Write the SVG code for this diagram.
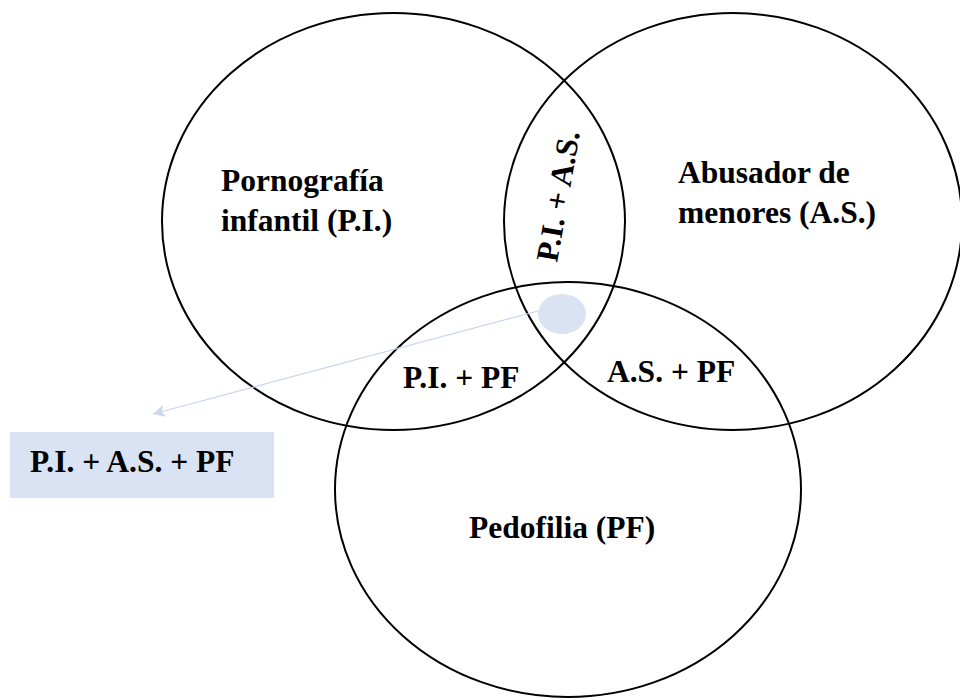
<svg xmlns="http://www.w3.org/2000/svg" width="960" height="699" viewBox="0 0 960 699">
<style>
.set{fill:none;stroke:#000;stroke-width:2}
.lbl{font-family:'Liberation Serif','Times New Roman','DejaVu Serif',serif;font-weight:700;font-size:31.5px;fill:#000}
</style>
<defs>
<marker id="ah" viewBox="0 0 10 10" refX="10" refY="5" markerWidth="18" markerHeight="12" markerUnits="userSpaceOnUse" orient="auto">
<path d="M0,0 L10,5 L0,10 L2.5,5 z" fill="#c8d6ef"/>
</marker>
</defs>
<rect width="960" height="699" fill="#fff"/>
<g id="pi">
<ellipse class="set" cx="393.5" cy="221.5" rx="231.5" ry="208.5"/>
<text class="lbl" x="221" y="191">Pornografía</text>
<text class="lbl" x="221" y="231">infantil (P.I.)</text>
</g>
<g id="as">
<ellipse class="set" cx="733" cy="221.5" rx="229" ry="208.5"/>
<text class="lbl" x="678" y="183">Abusador de</text>
<text class="lbl" x="678" y="223">menores (A.S.)</text>
</g>
<g id="pf">
<ellipse class="set" cx="568" cy="489.5" rx="233" ry="207.5"/>
<text class="lbl" x="469" y="538">Pedofilia (PF)</text>
</g>
<g id="pi-as">
<text class="lbl" x="557" y="263" transform="rotate(-80 557 263)">P.I. + A.S.</text>
</g>
<g id="pi-pf">
<text class="lbl" x="403" y="388">P.I. + PF</text>
</g>
<g id="as-pf">
<text class="lbl" x="607" y="382">A.S. + PF</text>
</g>
<g id="all">
<ellipse cx="562" cy="314" rx="24" ry="20" fill="#dae3f3"/>
</g>
<g id="box">
<rect x="10" y="432" width="264" height="66" fill="#dae3f3"/>
<text class="lbl" x="30" y="472">P.I. + A.S. + PF</text>
</g>
<g id="connectors">
<line x1="538" y1="311" x2="153" y2="414" stroke="#c9d6ee" stroke-width="1.2" marker-end="url(#ah)"/>
</g>
</svg>
